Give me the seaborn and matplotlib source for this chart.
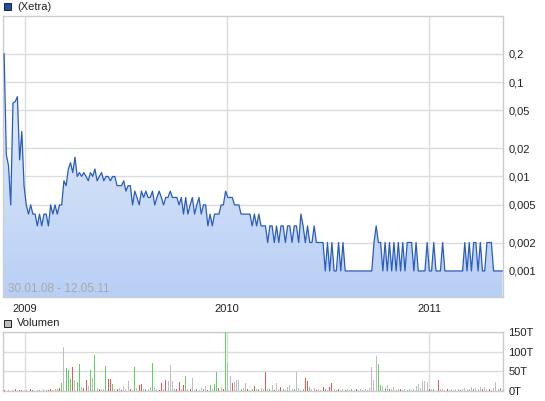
import numpy as np
import pandas as pd
import seaborn as sns
import matplotlib.pyplot as plt
from matplotlib.colors import LinearSegmentedColormap
from matplotlib.patches import Rectangle
from matplotlib.ticker import NullLocator

# price in thousandths of a euro, one reading every 4 days from 24.11.2008
price_milli = [
    200, 17, 13, 5, 60, 62, 70, 15, 30, 8,
    5, 4, 5, 4, 4, 3, 4, 3, 4, 4,
    3, 5, 4, 5, 4, 5, 5, 9, 8, 12,
    14, 11, 16, 10, 11, 10, 11, 10, 9, 11,
    10, 12, 9, 10, 11, 9, 10, 10, 9, 10,
    10, 8, 8, 8, 9, 7, 8, 8, 5, 7,
    6, 5, 7, 6, 7, 6, 6, 7, 5, 6,
    7, 6, 5, 6, 6, 7, 6, 6, 6, 5,
    6, 4, 6, 4, 5, 6, 4, 5, 6, 4,
    5, 5, 3, 4, 3, 4, 4, 4, 5, 5,
    7, 6, 6, 6, 5, 5, 5, 4, 4, 4,
    4, 4, 3, 4, 3, 4, 3, 3, 3, 2,
    3, 3, 2, 3, 2, 3, 3, 2, 3, 3,
    2, 3, 3, 2, 4, 3, 2, 3, 2, 2,
    3, 2, 2, 2, 2, 1, 2, 1, 2, 1,
    1, 2, 1, 2, 1, 1, 1, 1, 1, 1,
    1, 1, 1, 1, 1, 1, 1, 2, 3, 2,
    2, 1, 2, 1, 2, 1, 2, 1, 2, 1,
    2, 1, 2, 2, 2, 1, 2, 1, 1, 1,
    1, 2, 1, 1, 2, 1, 1, 1, 2, 1,
    1, 1, 1, 1, 1, 1, 1, 1, 2, 1,
    2, 1, 2, 2, 1, 2, 1, 1, 2, 2,
    2, 1, 1, 1, 1, 1,
]

# volume in thousands (T)
volume_t = [
    2, 1, 3, 1, 2, 4, 1, 2, 3, 1,
    2, 1, 4, 2, 1, 3, 2, 1, 5, 3,
    2, 4, 3, 6, 5, 8, 20, 112, 58, 54,
    30, 60, 28, 24, 69, 10, 8, 28, 12, 54,
    32, 92, 8, 5, 6, 4, 64, 30, 30, 18,
    5, 4, 8, 3, 12, 4, 25, 6, 3, 61,
    8, 15, 18, 5, 4, 6, 10, 72, 9, 5,
    3, 20, 6, 28, 25, 66, 26, 4, 6, 24,
    5, 16, 38, 4, 6, 33, 3, 5, 2, 7,
    4, 12, 3, 15, 6, 18, 48, 8, 10, 5,
    150, 70, 37, 20, 24, 28, 28, 6, 8, 20,
    4, 3, 5, 12, 6, 4, 8, 5, 49, 6,
    4, 15, 3, 21, 4, 11, 6, 3, 9, 15,
    4, 6, 49, 8, 3, 5, 32, 26, 11, 4,
    7, 3, 6, 2, 9, 4, 3, 10, 20, 4,
    3, 5, 2, 6, 3, 5, 2, 4, 3, 5,
    2, 6, 3, 4, 2, 8, 60, 28, 90, 69,
    15, 12, 8, 15, 6, 4, 9, 3, 5, 4,
    3, 6, 2, 4, 3, 6, 13, 19, 8, 26,
    25, 24, 6, 4, 5, 3, 28, 4, 6, 3,
    5, 2, 4, 3, 6, 5, 3, 4, 7, 5,
    6, 9, 4, 8, 5, 11, 6, 9, 4, 6,
    3, 7, 24, 5, 8, 3,
]

# u = up day (green), d = down day (red), n = unchanged (grey)
direction = (
    "ddnundnddn" "unddnnudnu" "ddnnudunuu" "udnuunddnu" "nundnnuddu"
    "ndndnnndnu" "nddnunnunn" "ddndnnnudd" "ndundnndnn" "undunuudnd"
    "unndnnnunn" "dnudnunndn" "undnndunnn" "nunnnuddun" "ndnndunddn"
    "udnndnnund" "nnunnnnnnu" "unundnnund" "nnunnnnnnn" "nndnundnnn"
    "dnnnnndnnn" "nnunnndnnd" "nnnnun"
)

price_ticks = [0.001, 0.002, 0.005, 0.01, 0.02, 0.05, 0.1, 0.2]
price_labels = ['0,001', '0,002', '0,005', '0,01', '0,02', '0,05', '0,1', '0,2']
vol_ticks = [0, 50, 100, 150]
vol_labels = ['0T', '50T', '100T', '150T']
year_ticks = pd.to_datetime(['2009-01-01', '2010-01-01', '2011-01-01'])
year_labels = ['2009', '2010', '2011']

dates = pd.date_range('2008-11-24', periods=len(price_milli), freq='4D')
df = pd.DataFrame({
    'Date': dates,
    'Price': np.array(price_milli) / 1000,
    'Volume': volume_t,
    'Dir': list(direction),
})

sns.set_style('white')
plt.rcParams['font.family'] = ['Liberation Sans', 'DejaVu Sans']

W, H = 545, 401
fig = plt.figure(figsize=(W / 100, H / 100), dpi=100)
ax = fig.add_axes([3 / W, 1 - 297 / H, 500 / W, 281 / H])
axv = fig.add_axes([3 / W, 1 - 391 / H, 500 / W, 59 / H])

grid_c = '#dcdcdc'
frame_c = '#cccccc'
xmin, xmax = pd.Timestamp('2008-11-22'), dates[-1] + pd.Timedelta(days=1)
ymin, ymax = 0.00053, 0.5

# price line with a vertical gradient fill underneath
sns.lineplot(data=df, x='Date', y='Price', ax=ax, color='#2a5cbc', linewidth=0.9, zorder=4)
ax.set_yscale('log')
poly = ax.fill_between(df['Date'], df['Price'], ymin, facecolor='none', edgecolor='none', zorder=2)
cmap = LinearSegmentedColormap.from_list('fill', ['#b8cff5', '#f0f5fd'])
grad = np.linspace(0, 1, 256).reshape(-1, 1)
im = ax.imshow(grad, extent=[0, 1, 0, 1], transform=ax.transAxes, origin='lower',
               cmap=cmap, aspect='auto', zorder=2)
im.set_clip_path(poly.get_paths()[0], transform=ax.transData)

ax.set_xlim(xmin, xmax)
ax.set_ylim(ymin, ymax)
ax.yaxis.tick_right()
ax.set_yticks(price_ticks)
ax.set_yticklabels(price_labels)
ax.yaxis.set_minor_locator(NullLocator())
ax.set_xticks(year_ticks)
ax.set_xticklabels(year_labels)
ax.tick_params(axis='y', length=0, pad=4, labelsize=8, labelcolor='#222222')
ax.tick_params(axis='x', length=4, width=1, color=frame_c, pad=1, labelsize=8, labelcolor='#222222')
ax.grid(True, color=grid_c, linewidth=1)
ax.set_axisbelow(True)
ax.set_xlabel('')
ax.set_ylabel('')
for s in ax.spines.values():
    s.set_color(frame_c)
    s.set_linewidth(1)

ax.text(0.011, 0.008, '30.01.08 - 12.05.11', transform=ax.transAxes,
        color='#a8a8a8', fontsize=8.5, va='bottom', ha='left', zorder=5)

# volume bars
vol_colors = {'u': '#5fd35f', 'd': '#e05a5a', 'n': '#bdbdbd'}
axv.bar(df['Date'], df['Volume'], width=1.8, color=[vol_colors[d] for d in df['Dir']],
        linewidth=0, zorder=3)
axv.set_xlim(xmin, xmax)
axv.set_ylim(0, 150)
axv.yaxis.tick_right()
axv.set_yticks(vol_ticks)
axv.set_yticklabels(vol_labels)
axv.set_xticks(year_ticks)
axv.set_xticklabels([])
axv.tick_params(axis='y', length=0, pad=4, labelsize=8, labelcolor='#222222')
axv.tick_params(axis='x', length=0)
axv.grid(True, color=grid_c, linewidth=1)
axv.set_axisbelow(True)
for s in axv.spines.values():
    s.set_color(frame_c)
    s.set_linewidth(1)

# legend-style headers
fig.add_artist(Rectangle((4 / W, 1 - 10 / H), 7 / W, 7 / H, transform=fig.transFigure,
                         facecolor='#1f4fa8', edgecolor='#222222', linewidth=0.7))
fig.text(17 / W, 1 - 6.5 / H, '(Xetra)', fontsize=8, color='#222222', va='center')
fig.add_artist(Rectangle((4 / W, 1 - 327 / H), 7 / W, 7 / H, transform=fig.transFigure,
                         facecolor='#bdbdbd', edgecolor='#222222', linewidth=0.7))
fig.text(17 / W, 1 - 323.5 / H, 'Volumen', fontsize=8, color='#222222', va='center')

fig.savefig('out.png', dpi=100)
